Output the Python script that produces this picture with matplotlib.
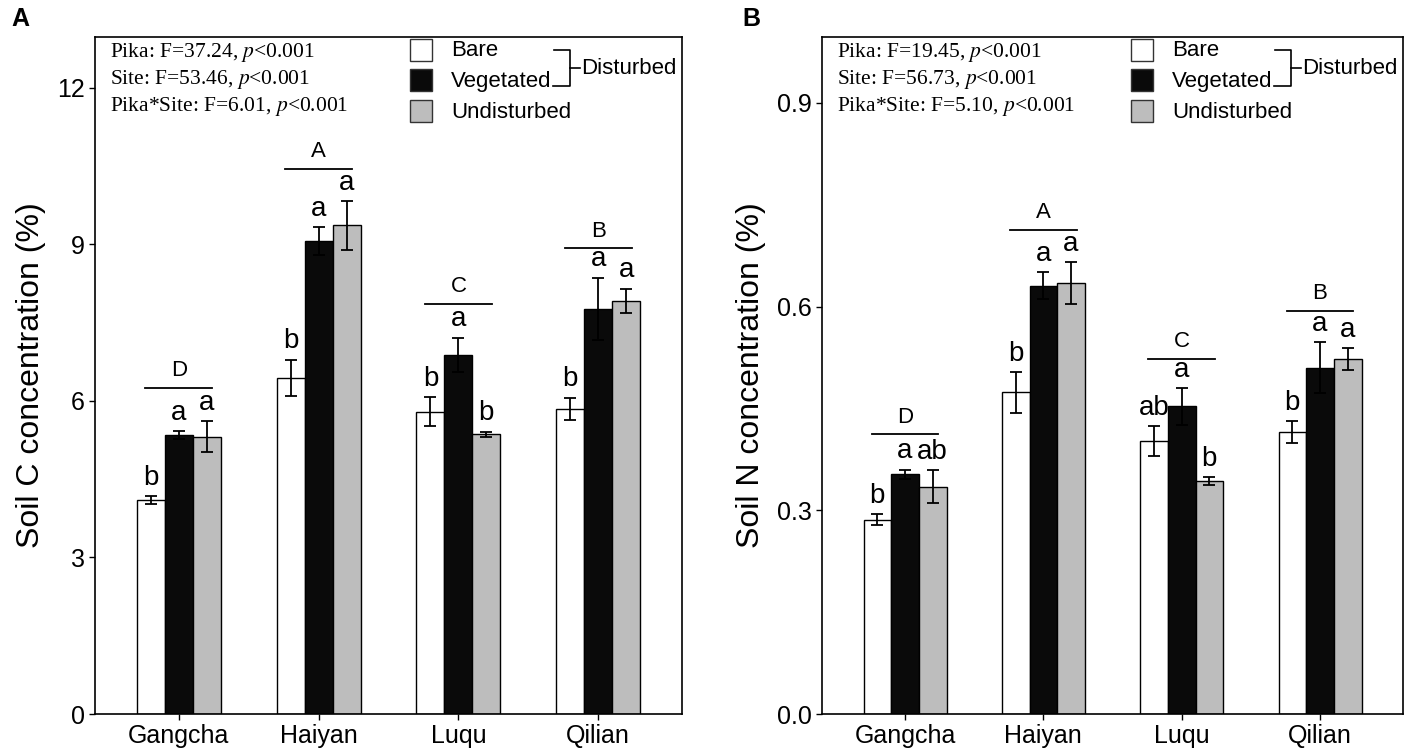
import numpy as np
import matplotlib
matplotlib.use("Agg")
import matplotlib.pyplot as plt
from matplotlib.patches import Rectangle

plt.rcParams['font.family'] = ['Liberation Sans', 'DejaVu Sans']
plt.rcParams['mathtext.fontset'] = 'stix'

sites = ["Gangcha", "Haiyan", "Luqu", "Qilian"]
treatments = ["Bare", "Vegetated", "Undisturbed"]
colors = ["white", "#0a0a0a", "#bdbdbd"]

# panel A - soil C
c_mean = [[4.10, 6.44, 5.79, 5.85],
          [5.34, 9.06, 6.88, 7.76],
          [5.31, 9.36, 5.36, 7.92]]
c_err = [[0.08, 0.35, 0.28, 0.21],
         [0.08, 0.27, 0.33, 0.60],
         [0.30, 0.47, 0.05, 0.23]]
c_letters = [["b", "b", "b", "b"],
             ["a", "a", "a", "a"],
             ["a", "a", "b", "a"]]
c_group = ["D", "A", "C", "B"]
c_group_y = [6.25, 10.45, 7.86, 8.92]
c_stats = ["Pika: F=37.24, $\\mathit{p}$<0.001",
           "Site: F=53.46, $\\mathit{p}$<0.001",
           "Pika*Site: F=6.01, $\\mathit{p}$<0.001"]

# panel B - soil N
n_mean = [[0.286, 0.474, 0.402, 0.415],
          [0.353, 0.631, 0.453, 0.510],
          [0.335, 0.635, 0.343, 0.523]]
n_err = [[0.008, 0.030, 0.022, 0.016],
         [0.007, 0.020, 0.027, 0.038],
         [0.024, 0.031, 0.006, 0.016]]
n_letters = [["b", "b", "ab", "b"],
             ["a", "a", "a", "a"],
             ["ab", "a", "b", "a"]]
n_group = ["D", "A", "C", "B"]
n_group_y = [0.412, 0.713, 0.523, 0.594]
n_stats = ["Pika: F=19.45, $\\mathit{p}$<0.001",
           "Site: F=56.73, $\\mathit{p}$<0.001",
           "Pika*Site: F=5.10, $\\mathit{p}$<0.001"]

W, H = 1406, 756
fig = plt.figure(figsize=(W / 100, H / 100), dpi=100)
top, bot = 37, 714
axA = fig.add_axes([95 / W, (H - bot) / H, 587 / W, (bot - top) / H])
axB = fig.add_axes([822 / W, (H - bot) / H, 581 / W, (bot - top) / H])


def panel(ax, wpx, mean, err, letters, group, group_y, stats, ylim, yticks, ylabel, off):
    hpx = bot - top
    fx = lambda p: 1 - p / wpx          # pixels from right edge -> axes fraction
    fy = lambda p: 1 - (p - top) / hpx  # figure pixel row -> axes fraction

    x = np.arange(1, len(sites) + 1)
    w = 0.2
    for i in range(3):
        xs = x + (i - 1) * w
        ax.bar(xs, mean[i], w, color=colors[i], edgecolor="black", linewidth=1.0, zorder=2)
        ax.errorbar(xs, mean[i], yerr=err[i], fmt="none", ecolor="black",
                    elinewidth=1.3, capsize=4, capthick=1.3, zorder=3)
        for j in range(len(sites)):
            ax.text(xs[j], mean[i][j] + err[i][j] + off * 0.4, letters[i][j],
                    ha="center", va="bottom", fontsize=20)
    for j in range(len(sites)):
        ax.plot([x[j] - 0.24, x[j] + 0.24], [group_y[j], group_y[j]], color="black", lw=1.3)
        ax.text(x[j], group_y[j] + off * 0.5, group[j], ha="center", va="bottom", fontsize=16)
    ax.set_xlim(0.4, 4.6)
    ax.set_ylim(*ylim)
    ax.set_xticks(x)
    ax.set_xticklabels(sites, fontsize=18)
    ax.set_yticks(yticks)
    ax.tick_params(axis="y", labelsize=18, length=4, width=1)
    ax.tick_params(axis="x", length=4, width=1)
    ax.set_ylabel(ylabel, fontsize=23, labelpad=8)
    for s in ax.spines.values():
        s.set_linewidth(1.2)

    # stats text
    for k, s in enumerate(stats):
        ax.text(15 / wpx, fy(52 + 27.5 * k), s, transform=ax.transAxes, fontsize=15.5,
                family="Liberation Serif", ha="left", va="center")

    # legend drawn by hand
    rows = [50, 80, 111]
    sq = 22
    for i in range(3):
        ax.add_patch(Rectangle((fx(272), fy(rows[i] + sq / 2)), sq / wpx, sq / hpx,
                               transform=ax.transAxes, facecolor=colors[i],
                               edgecolor="#333333", lw=1.0, clip_on=False))
        ax.text(fx(231), fy(rows[i] + 1), treatments[i], transform=ax.transAxes,
                fontsize=16, ha="left", va="center")
    ax.plot([fx(128), fx(112), fx(112), fx(129)], [fy(50), fy(50), fy(86), fy(86)],
            transform=ax.transAxes, color="black", lw=1.2)
    ax.plot([fx(112), fx(102)], [fy(68), fy(68)], transform=ax.transAxes, color="black", lw=1.2)
    ax.text(fx(101), fy(68), "Disturbed", transform=ax.transAxes, fontsize=16,
            ha="left", va="center")


panel(axA, 587, c_mean, c_err, c_letters, c_group, c_group_y, c_stats,
      (0, 12.97), [0, 3, 6, 9, 12], "Soil C concentration (%)", 0.25)
panel(axB, 581, n_mean, n_err, n_letters, n_group, n_group_y, n_stats,
      (0, 0.997), [0.0, 0.3, 0.6, 0.9], "Soil N concentration (%)", 0.019)
axB.set_yticklabels(["0.0", "0.3", "0.6", "0.9"])

fig.text(0.008, 0.975, "A", fontsize=18, fontweight="bold", ha="left", va="center")
fig.text(0.528, 0.975, "B", fontsize=18, fontweight="bold", ha="left", va="center")

fig.savefig("out.png", dpi=100)
